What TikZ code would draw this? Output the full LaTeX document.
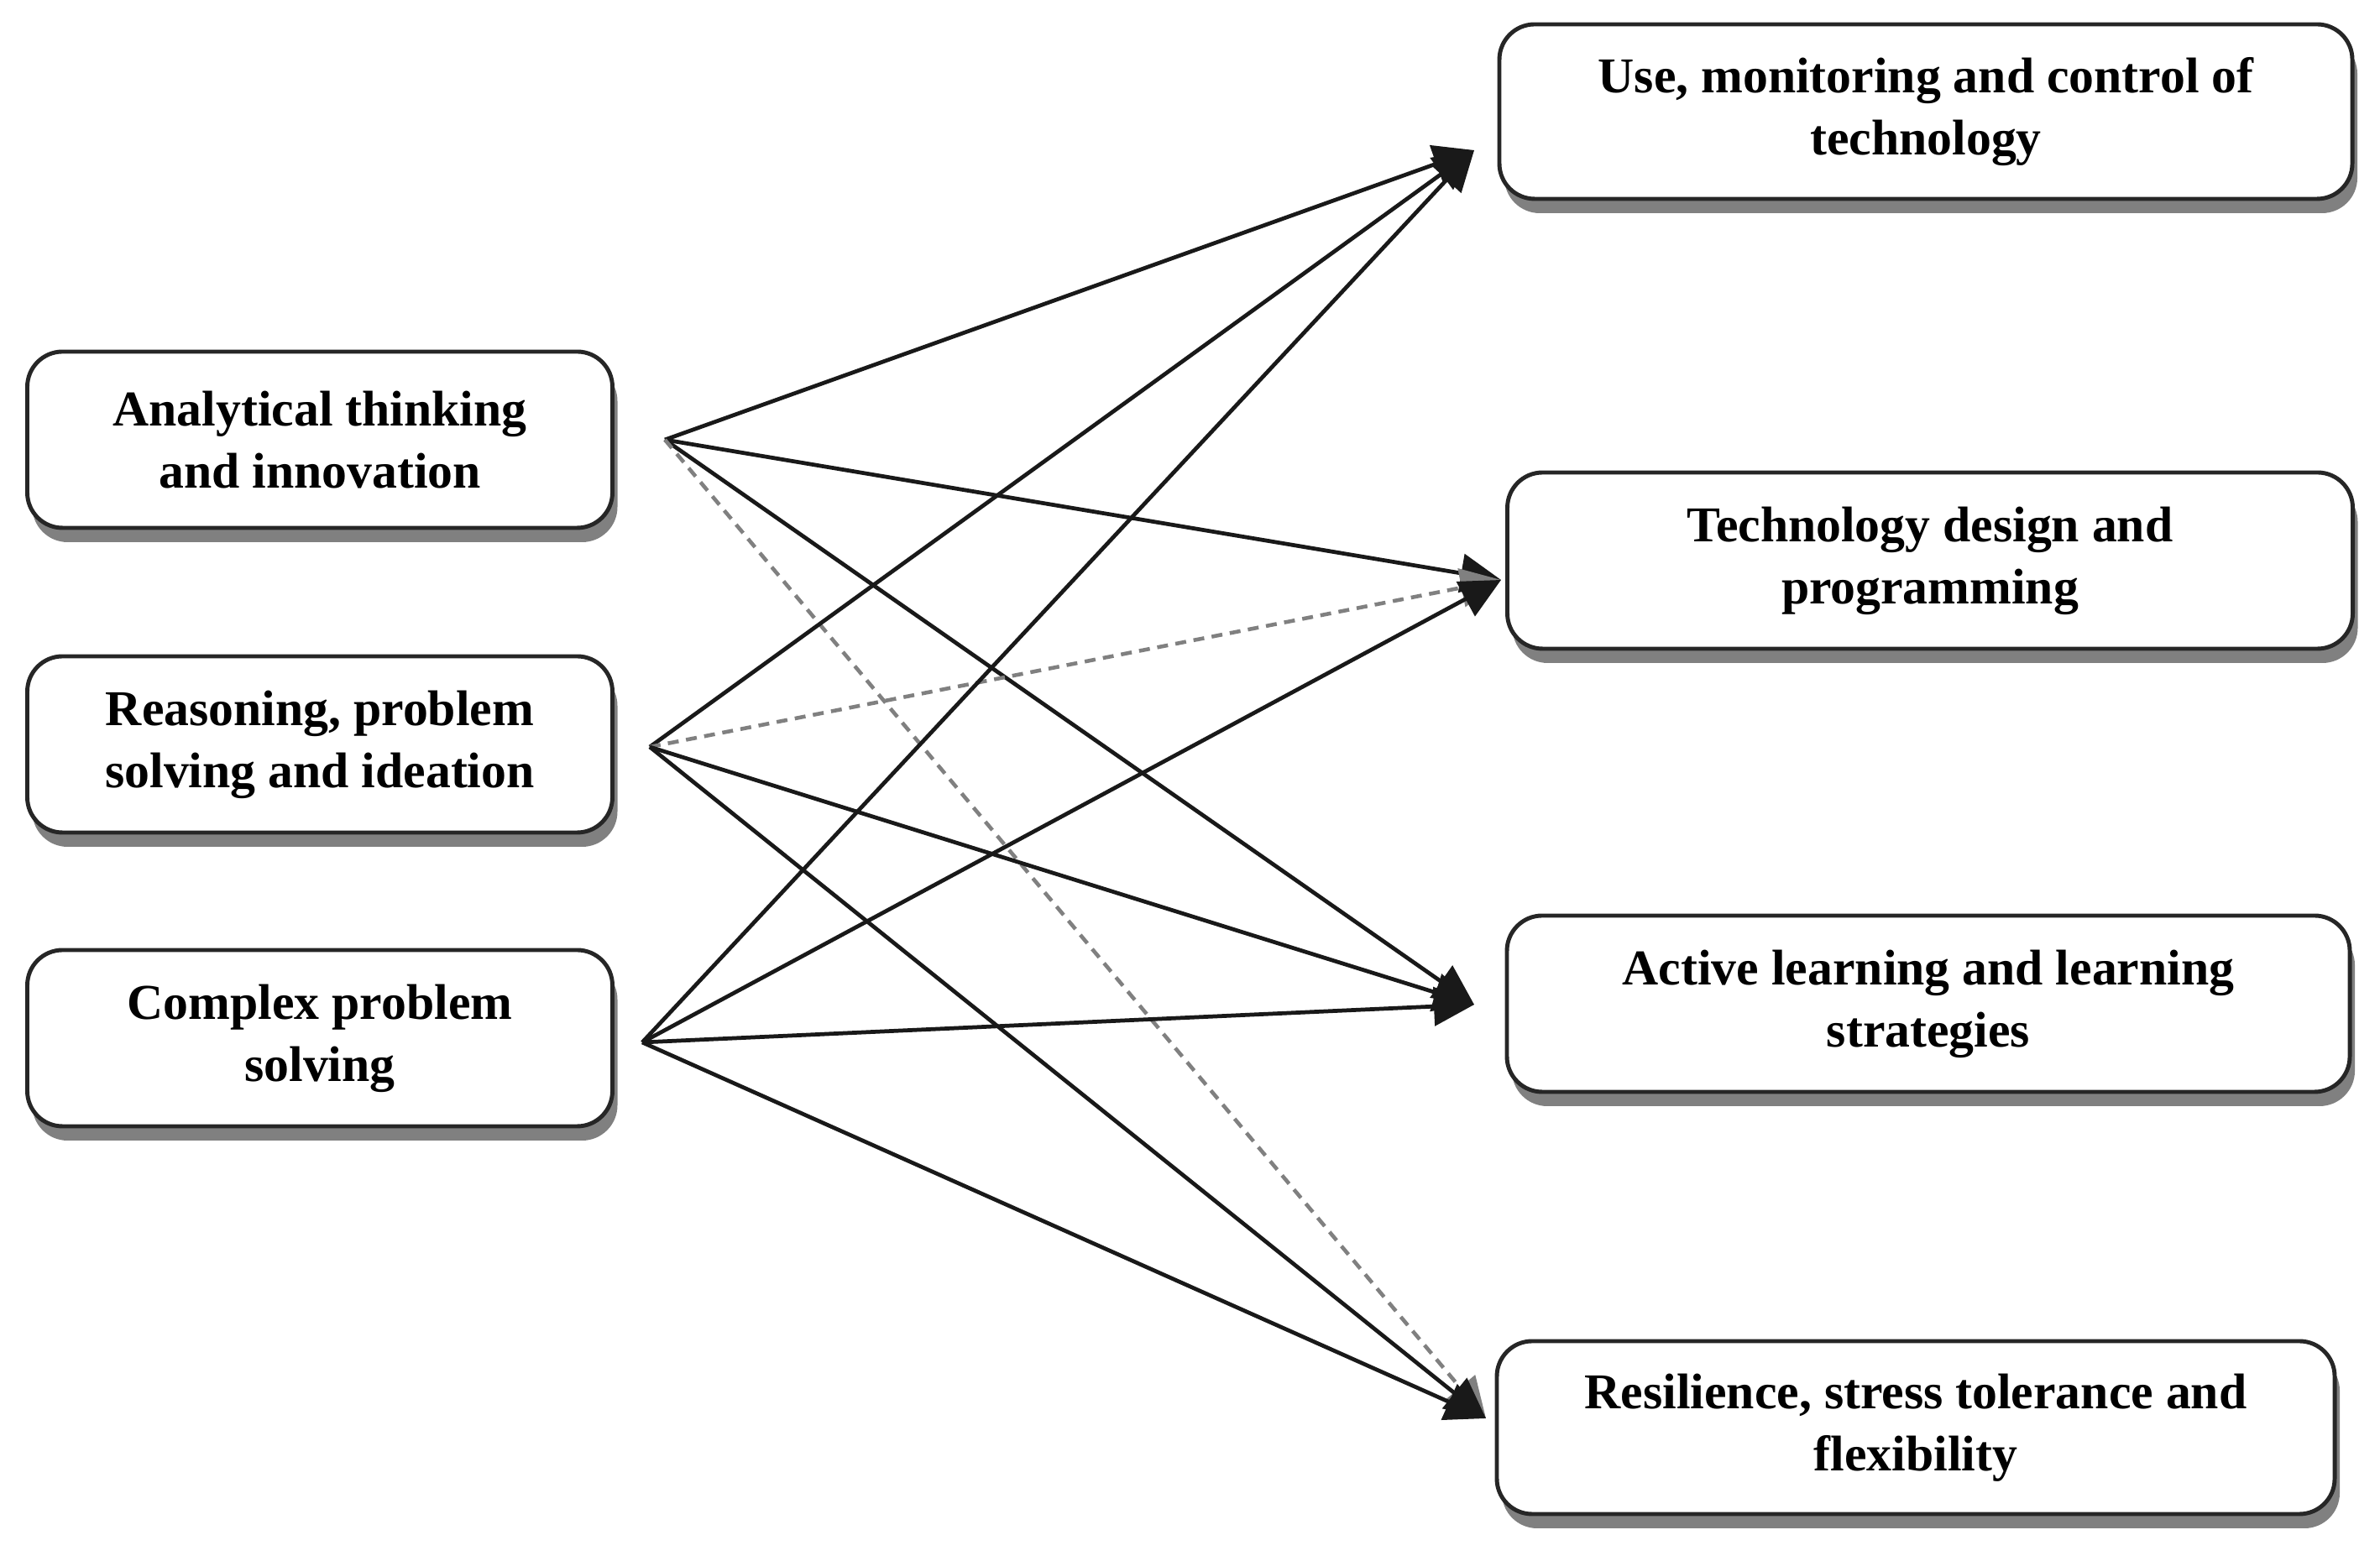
\documentclass[tikz,border=0pt]{standalone}
\usepackage{fontspec}
\setmainfont{Liberation Serif}
\usetikzlibrary{arrows.meta,shadows}
\begin{document}
\begin{tikzpicture}[
  skillbox/.style={draw=black!85, line width=1.4pt, rounded corners=0.42cm, fill=white,
    align=center, font=\fontsize{17}{21}\selectfont\bfseries, inner sep=0pt,
    drop shadow={shadow xshift=0.06cm, shadow yshift=-0.17cm, fill=black!50, opacity=1}},
  link/.style={line width=1.35pt, draw=black!90, -{Triangle[length=4.8mm,width=4.6mm]}},
  dlink/.style={line width=1.3pt, draw=black!50, dash pattern=on 1.3mm off 0.9mm, -{Triangle[length=4.8mm,width=4.6mm]}}
]
\useasboundingbox (0,0) rectangle (28.35,18.54);
% left boxes
\node[skillbox, minimum width=6.97cm, minimum height=2.10cm] (an) at (3.81,13.30) {Analytical thinking\\and innovation};
\node[skillbox, minimum width=6.97cm, minimum height=2.10cm] (re) at (3.81,9.67) {Reasoning, problem\\solving and ideation};
\node[skillbox, minimum width=6.97cm, minimum height=2.10cm] (cp) at (3.81,6.17) {Complex problem\\solving};
% right boxes
\node[skillbox, minimum width=10.16cm, minimum height=2.08cm] (us) at (22.94,17.21) {Use, monitoring and control of\\technology};
\node[skillbox, minimum width=10.07cm, minimum height=2.10cm] (td) at (22.99,11.86) {Technology design and\\programming};
\node[skillbox, minimum width=10.04cm, minimum height=2.10cm] (al) at (22.97,6.58) {Active learning and learning\\strategies};
\node[skillbox, minimum width=9.98cm, minimum height=2.06cm] (rs) at (22.82,1.53) {Resilience, stress tolerance and\\flexibility};
% connector ends
\coordinate (a) at (7.92,13.30);
\coordinate (r) at (7.74,9.64);
\coordinate (c) at (7.65,6.12);
\coordinate (tu) at (17.56,16.75);
\coordinate (tt) at (17.88,11.63);
\coordinate (ta) at (17.56,6.57);
\coordinate (tr) at (17.70,1.64);
% connectors
\draw[link] (a) -- (tu);
\draw[link] (a) -- (tt);
\draw[link] (a) -- (ta);
\draw[dlink] (a) -- (tr);
\draw[link] (r) -- (tu);
\draw[dlink] (r) -- (tt);
\draw[link] (r) -- (ta);
\draw[link] (r) -- (tr);
\draw[link] (c) -- (tu);
\draw[link] (c) -- (tt);
\draw[link] (c) -- (ta);
\draw[link] (c) -- (tr);
\end{tikzpicture}
\end{document}
